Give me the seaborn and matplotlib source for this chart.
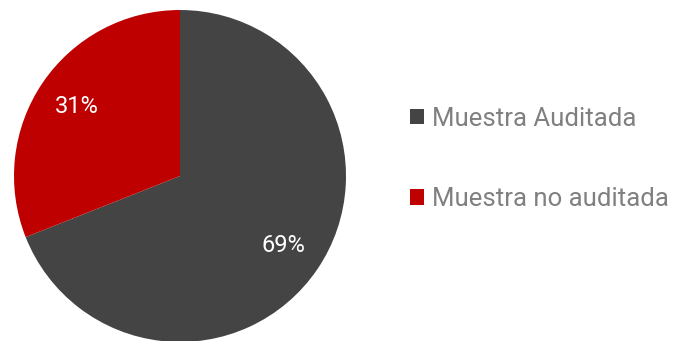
import matplotlib
matplotlib.use("Agg")
import matplotlib.pyplot as plt
import seaborn as sns
import numpy as np
from matplotlib.patches import Patch

categories = ["Muestra Auditada", "Muestra no auditada"]
values = [69, 31]
pct_labels = ["69%", "31%"]
colors = ["#444444", "#BE0000"]

sns.set_theme(style="white")
plt.rcParams['font.family'] = ['Roboto', 'DejaVu Sans']

fig = plt.figure(figsize=(6.78, 3.41), dpi=100)
W, H = 678, 341
cx, cy, r = 180, 176, 166
ax = fig.add_axes([(cx - r) / W, (H - cy - r) / H, 2 * r / W, 2 * r / H])
wedges, _ = ax.pie(values, colors=colors, startangle=90, counterclock=False,
                   radius=1.0, wedgeprops=dict(linewidth=0))
for w, lab in zip(wedges, pct_labels):
    ang = np.deg2rad((w.theta1 + w.theta2) / 2)
    ax.text(0.75 * np.cos(ang), 0.75 * np.sin(ang), lab, ha="center", va="center",
            color="white", fontsize=17)
ax.set_xlim(-1, 1)
ax.set_ylim(-1, 1)
ax.set_aspect("equal")
ax.axis("off")

handles = [Patch(facecolor=c, edgecolor="none") for c in colors]
leg = fig.legend(handles, categories, loc="center left", bbox_to_anchor=(410 / W, 1 - 159 / H),
                 frameon=False, fontsize=18.5, handlelength=0.55, handleheight=0.55,
                 handletextpad=0.3, labelspacing=2.2, borderaxespad=0, borderpad=0)
for t in leg.get_texts():
    t.set_color("#808080")

fig.savefig("out.png", dpi=100)
